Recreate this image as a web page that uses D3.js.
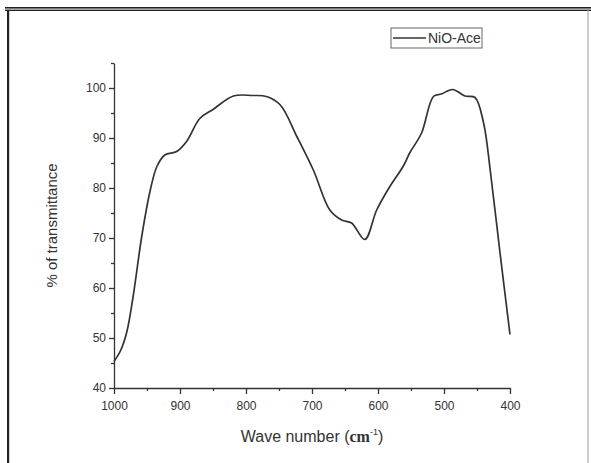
<!DOCTYPE html>
<html>
<head>
<meta charset="utf-8">
<script src="https://d3js.org/d3.v7.min.js"></script>
<style>
    body { margin: 0; background: #fff; }
    svg { display: block; font-family: "Liberation Sans", Arial, sans-serif; }
</style>
</head>
<body>
<svg id="drawing_region"></svg>
<script>
// wave number (cm-1)
const wavenumbers = [1000, 990, 981, 971, 958, 945, 935, 923, 905, 890, 870, 850, 819, 790, 769, 748,
    723, 698, 673, 655, 640, 620, 602, 582, 562, 552, 534, 516, 504, 487, 468, 453, 440, 430, 415, 400];
// % of transmittance
const transmittance = [45.3, 47.5, 51, 58.3, 70.3, 79.6, 84.3, 86.6, 87.3, 89.3, 93.9, 95.7, 98.4, 98.5, 98.3, 96.6,
    90.3, 83.6, 75.6, 73.6, 73, 69.7, 75.6, 80.3, 84.3, 87, 91, 98.3, 98.8, 99.7, 98.4, 98.1, 93, 83.6, 66.9, 50.7];
const xticks = [1000, 900, 800, 700, 600, 500, 400];
const yticks = [40, 50, 60, 70, 80, 90, 100];
const series_name = "NiO-Ace";

class IRPlot {

    constructor( config, data ) {
        this.config = {
            parent: config.parent,
            width: config.width || 256,
            height: config.height || 256,
            margin: config.margin || {top:10, right:10, bottom:10, left:10}
        }
        this.data = data;
        this.init();
    }

    init() {
        let self = this;

        self.svg = d3.select( self.config.parent )
            .attr('width', self.config.width)
            .attr('height', self.config.height);

        // page frame
        self.svg.append('rect').attr('x', 5).attr('y', 7).attr('width', 586).attr('height', 1.6).attr('fill', '#222');
        self.svg.append('rect').attr('x', 5).attr('y', 9.6).attr('width', 586).attr('height', 1.4).attr('fill', '#222');
        self.svg.append('rect').attr('x', 7).attr('y', 10).attr('width', 2.2).attr('height', 453).attr('fill', '#222');
        self.svg.append('rect').attr('x', 587.5).attr('y', 10).attr('width', 1).attr('height', 453).attr('fill', '#999');

        self.chart = self.svg.append('g')
            .attr('transform', `translate(${self.config.margin.left}, ${self.config.margin.top})`);

        self.inner_width = self.config.width - self.config.margin.left - self.config.margin.right;
        self.inner_height = self.config.height - self.config.margin.top - self.config.margin.bottom;

        self.xscale = d3.scaleLinear()
            .domain( [1000, 400] )
            .range( [0, self.inner_width] );

        self.yscale = d3.scaleLinear()
            .domain( [40, 105] )
            .range( [self.inner_height, 0] );

        self.xaxis_group = self.chart.append('g')
            .attr('transform', `translate(0, ${self.inner_height})`);
        self.yaxis_group = self.chart.append('g');
    }

    render() {
        let self = this;

        // minor ticks
        self.xaxis_group.call( d3.axisBottom( self.xscale )
                .tickValues( d3.range(950, 400, -100) ).tickSize(3).tickFormat('') )
            .call( g => g.select('.domain').remove() );
        self.yaxis_group.call( d3.axisLeft( self.yscale )
                .tickValues( d3.range(45, 106, 10) ).tickSize(3).tickFormat('') )
            .call( g => g.select('.domain').remove() );

        const xg = self.xaxis_group.append('g')
            .call( d3.axisBottom( self.xscale ).tickValues( xticks ).tickSize(6).tickSizeOuter(0)
                .tickFormat( d3.format('d') ) );
        const yg = self.yaxis_group.append('g')
            .call( d3.axisLeft( self.yscale ).tickValues( yticks ).tickSize(5).tickSizeOuter(0) );

        [self.xaxis_group, self.yaxis_group].forEach( g => {
            g.selectAll('path, line').attr('stroke', '#333').attr('stroke-width', 1.3);
            g.selectAll('text').attr('fill', '#333').attr('font-size', '12px')
                .attr('font-family', '"Liberation Sans", Arial, sans-serif');
        });
        xg.selectAll('text').attr('dy', '1.05em');

        self.chart.append('path')
            .datum( self.data )
            .attr('fill', 'none')
            .attr('stroke', '#333')
            .attr('stroke-width', 1.7)
            .attr('d', d3.line()
                .x( d => self.xscale( d.x ) )
                .y( d => self.yscale( d.y ) )
                .curve( d3.curveCatmullRom.alpha(0.5) ) );

        // axis titles
        const xt = self.chart.append('text')
            .attr('x', self.inner_width / 2)
            .attr('y', self.inner_height + 54)
            .attr('text-anchor', 'middle')
            .attr('fill', '#333')
            .attr('font-size', '16px');
        xt.append('tspan').text('Wave number (');
        xt.append('tspan').attr('font-family', '"Liberation Serif", serif').attr('font-weight', 'bold').text('cm');
        xt.append('tspan').attr('font-size', '9px').attr('dy', -7).text('-1');
        xt.append('tspan').attr('dy', 7).text(')');

        self.chart.append('text')
            .attr('transform', 'rotate(-90)')
            .attr('x', -self.yscale(72.5))
            .attr('y', -57)
            .attr('text-anchor', 'middle')
            .attr('fill', '#333')
            .attr('font-size', '15px')
            .text('% of transmittance');

        // legend
        const legend = self.svg.append('g').attr('transform', 'translate(391, 28)');
        legend.append('rect')
            .attr('width', 91).attr('height', 20)
            .attr('fill', 'none').attr('stroke', '#666').attr('stroke-width', 1);
        legend.append('line')
            .attr('x1', 2).attr('x2', 35).attr('y1', 10).attr('y2', 10)
            .attr('stroke', '#333').attr('stroke-width', 1.6);
        legend.append('text')
            .attr('x', 37).attr('y', 15)
            .attr('fill', '#333').attr('font-size', '14px')
            .text(series_name);
    }
}

const data = wavenumbers.map( (w, i) => ({ x: w, y: transmittance[i] }) );

const config = {
    parent: '#drawing_region',
    width: 591,
    height: 463,
    margin: {top:63, right:81, bottom:75, left:114}
};

const ir_plot = new IRPlot( config, data );
ir_plot.render();
</script>
</body>
</html>
